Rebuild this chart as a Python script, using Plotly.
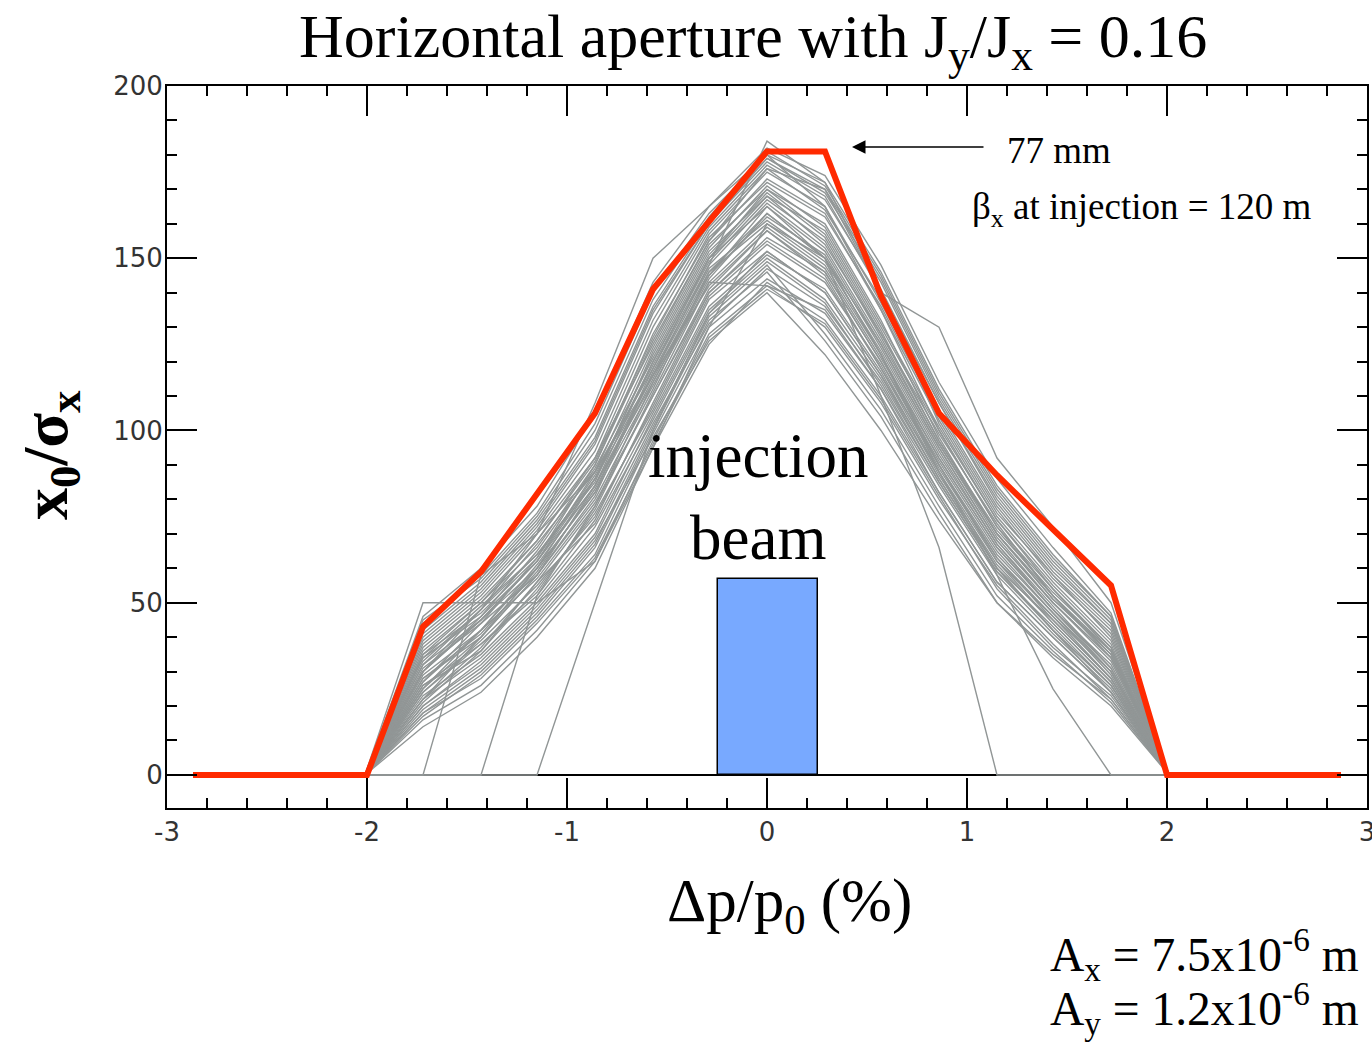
import plotly.graph_objects as go

# ---------------- data ----------------
# momentum deviation grid (%) used by the tracking runs
grid_x = [-2.01, -1.72, -1.43, -1.15, -0.86, -0.57, -0.29, 0.0, 0.29, 0.57, 0.86, 1.15, 1.43, 1.72, 2.01]

# individual seed apertures (x0/sigma_x)
seeds = [
    [0, 30, 45, 60, 82, 118, 150, 165, 152, 125, 95, 68, 50, 34, 0],
    [0, 16, 26, 42, 62, 97, 128, 142, 130, 108, 80, 55, 38, 22, 0],
    [0, 44, 58, 76, 102, 140, 163, 180, 172, 146, 112, 84, 64, 46, 0],
    [0, 22, 34, 50, 70, 104, 135, 150, 138, 115, 86, 60, 42, 26, 0],
    [0, 36, 50, 66, 90, 128, 156, 172, 162, 136, 104, 76, 58, 40, 0],
    [0, 18, 30, 46, 66, 100, 132, 146, 126, 104, 76, 50, 34, 20, 0],
    [0, 28, 40, 58, 80, 112, 146, 160, 148, 122, 92, 66, 48, 32, 0],
    [0, 40, 54, 72, 96, 134, 160, 178, 168, 140, 108, 80, 60, 44, 0],
    [0, 24, 38, 52, 74, 108, 140, 155, 144, 118, 90, 62, 46, 28, 0],
    [0, 32, 48, 64, 86, 122, 152, 168, 158, 130, 100, 72, 54, 36, 0],
    [0, 20, 32, 48, 68, 98, 126, 140, 122, 100, 74, 50, 35, 22, 0],
    [0, 46, 60, 78, 105, 143, 165, 182, 174, 148, 114, 86, 66, 47, 0],
    [0, 26, 36, 56, 78, 114, 144, 163, 150, 122, 90, 64, 47, 30, 0],
    [0, 34, 46, 62, 84, 120, 150, 170, 160, 132, 98, 70, 52, 35, 0],
    [0, 14, 24, 40, 60, 95, 125, 143, 132, 110, 82, 56, 40, 24, 0],
    [0, 38, 52, 70, 92, 130, 158, 176, 164, 138, 106, 78, 58, 42, 0],
    [0, 29, 42, 61, 84, 116, 148, 166, 153, 126, 96, 69, 50, 33, 0],
    [0, 21, 36, 54, 76, 106, 138, 152, 140, 116, 88, 62, 44, 27, 0],
    [0, 42, 56, 74, 98, 136, 161, 179, 170, 144, 110, 82, 62, 45, 0],
    [0, 27, 44, 58, 81, 117, 147, 161, 149, 123, 93, 67, 49, 31, 0],
    [0, 33, 48, 67, 88, 124, 154, 170, 157, 129, 97, 71, 53, 37, 0],
    [0, 17, 29, 45, 64, 99, 130, 144, 134, 112, 84, 58, 41, 25, 0],
    [0, 35, 47, 63, 90, 126, 155, 173, 163, 135, 103, 75, 56, 39, 0],
    [0, 25, 42, 57, 79, 110, 141, 158, 146, 120, 91, 65, 47, 29, 0],
    [0, 39, 53, 71, 94, 132, 159, 177, 167, 141, 108, 79, 59, 43, 0],
    [0, 23, 35, 51, 72, 103, 134, 149, 137, 113, 85, 59, 43, 26, 0],
    [0, 31, 44, 63, 87, 119, 149, 167, 155, 127, 96, 70, 51, 35, 0],
    [0, 19, 31, 47, 67, 101, 133, 148, 128, 106, 78, 52, 36, 21, 0],
    [0, 37, 51, 68, 91, 127, 157, 175, 165, 137, 105, 77, 57, 41, 0],
    [0, 28, 41, 59, 83, 115, 145, 162, 151, 124, 94, 67, 48, 31, 0],
    [0, 45, 57, 75, 100, 138, 162, 181, 171, 145, 111, 83, 63, 46, 0],
    [0, 24, 39, 55, 75, 107, 139, 154, 143, 119, 89, 63, 45, 28, 0],
    [0, 30, 46, 65, 89, 121, 151, 169, 156, 128, 99, 73, 52, 34, 0],
    [0, 20, 33, 49, 69, 102, 131, 147, 136, 114, 85, 59, 42, 24, 0],
    [0, 34, 49, 64, 85, 123, 153, 171, 159, 131, 101, 74, 55, 38, 0],
    [0, 26, 38, 53, 77, 111, 143, 159, 147, 121, 92, 66, 48, 30, 0],
    [0, 41, 55, 73, 97, 135, 160, 179, 169, 143, 109, 81, 61, 44, 0],
    [0, 22, 37, 56, 73, 105, 136, 151, 141, 117, 87, 61, 44, 27, 0],
    [0, 32, 45, 62, 86, 120, 150, 168, 154, 128, 97, 70, 51, 36, 0],
    [0, 18, 28, 44, 63, 96, 127, 141, 131, 109, 81, 54, 37, 23, 0],
    [0, 50, 50, 50, 62, 95, 130, 160, 150, 125, 95, 68, 50, 34, 0],
    [0, 30, 48, 70, 108, 150, 165, 180, 165, 135, 100, 72, 52, 36, 0],
    [0, 35, 50, 68, 92, 125, 155, 176, 170, 140, 130, 92, 72, 50, 0],
    [0, 0, 58, 70, 88, 116, 142, 158, 145, 118, 88, 60, 45, 28, 0],
    [0, 0, 0, 52, 78, 110, 140, 156, 146, 120, 90, 63, 46, 30, 0],
    [0, 0, 0, 0, 50, 100, 134, 152, 140, 116, 86, 60, 42, 26, 0],
    [0, 25, 40, 58, 84, 114, 145, 165, 150, 110, 66, 0, 0, 0, 0],
    [0, 27, 42, 60, 86, 116, 146, 163, 150, 122, 88, 58, 25, 0, 0],
    [0, 30, 45, 62, 88, 118, 148, 184, 172, 140, 102, 74, 54, 37, 0],
    [0, 22, 40, 60, 82, 113, 143, 142, 135, 112, 82, 56, 40, 24, 0],
]

# dynamic aperture envelope (red)
env_x = [-2.87, -2.0, -1.72, -1.43, -0.86, -0.57, 0.0, 0.29, 0.57, 0.86, 1.15, 1.72, 2.0, 2.87]
env_y = [0, 0, 43, 59, 105, 141, 181, 181, 139, 105, 87, 55, 0, 0]

# injection beam size
beam_x = [0.005]
beam_y = [57]
beam_width = 0.5

# tick labels (plain hyphen minus as in the original)
x_ticks = [-3, -2, -1, 0, 1, 2, 3]
x_ticklabels = ["-3", "-2", "-1", "0", "1", "2", "3"]
y_ticks = [0, 50, 100, 150, 200]
y_ticklabels = ["0", "50", "100", "150", "200"]

# ---------------- figure ----------------
fig = go.Figure()

fig.add_trace(go.Bar(x=beam_x, y=beam_y, width=[beam_width],
                     marker=dict(color="#78a9ff", line=dict(color="black", width=1.5)),
                     showlegend=False, hoverinfo="skip"))

for s in seeds:
    fig.add_trace(go.Scatter(x=grid_x, y=s, mode="lines",
                             line=dict(color="#919696", width=1.4),
                             showlegend=False, hoverinfo="skip"))

fig.add_trace(go.Scatter(x=env_x, y=env_y, mode="lines",
                         line=dict(color="#ff2a00", width=6),
                         showlegend=False))

serif = "Liberation Serif, Times New Roman, serif"
tickfont = dict(family="DejaVu Sans", size=26, color="#333333")

fig.update_layout(
    width=1372, height=1042,
    margin=dict(l=167, r=5, t=86, b=234),
    paper_bgcolor="white", plot_bgcolor="white",
    showlegend=False,
    bargap=0,
)

fig.update_xaxes(
    range=[-3, 3], tickvals=x_ticks, ticktext=x_ticklabels,
    showgrid=False, zeroline=False, automargin=False,
    showline=True, linecolor="black", linewidth=2, mirror="allticks",
    ticks="inside", ticklen=30, tickwidth=2, tickcolor="black",
    minor=dict(dtick=0.2, tick0=0, ticks="inside", ticklen=10, tickwidth=2, tickcolor="black", showgrid=False),
    tickfont=tickfont, ticklabelstandoff=0, ticklabeloverflow="allow",
)
fig.update_yaxes(
    range=[-9.6, 200], tickvals=y_ticks, ticktext=y_ticklabels,
    showgrid=False, zeroline=True, zerolinecolor="black", zerolinewidth=1.5, automargin=False,
    showline=True, linecolor="black", linewidth=2, mirror="allticks",
    ticks="inside", ticklen=30, tickwidth=2, tickcolor="black",
    minor=dict(dtick=10, tick0=0, ticks="inside", ticklen=10, tickwidth=2, tickcolor="black", showgrid=False),
    tickfont=tickfont, ticklabelstandoff=-3,
)

ann = []
ann.append(dict(text="Horizontal aperture with J<sub>y</sub>/J<sub>x</sub> = 0.16",
                xref="paper", yref="paper", x=0.4883, y=1.0637, xanchor="center", yanchor="middle",
                showarrow=False, font=dict(family=serif, size=62, color="black")))
ann.append(dict(text="<b>x<sub>0</sub>/σ<sub>x</sub></b>",
                xref="paper", yref="paper", x=-0.0975, y=0.489, xanchor="center", yanchor="middle",
                textangle=-90, showarrow=False, font=dict(family=serif, size=64, color="black")))
ann.append(dict(text="Δp/p<sub>0</sub> (%)",
                xref="paper", yref="paper", x=0.519, y=-0.134, xanchor="center", yanchor="middle",
                showarrow=False, font=dict(family=serif, size=61, color="black")))
ann.append(dict(text="A<sub>x</sub> = 7.5x10<sup>-6</sup> m",
                xref="paper", yref="paper", x=0.995, y=-0.2036, xanchor="right", yanchor="middle",
                showarrow=False, font=dict(family=serif, size=47.5, color="black")))
ann.append(dict(text="A<sub>y</sub> = 1.2x10<sup>-6</sup> m",
                xref="paper", yref="paper", x=0.995, y=-0.278, xanchor="right", yanchor="middle",
                showarrow=False, font=dict(family=serif, size=47.5, color="black")))
ann.append(dict(text="injection<br>beam",
                xref="x", yref="y", x=-0.045, y=80.8, xanchor="center", yanchor="middle",
                showarrow=False, font=dict(family=serif, size=63, color="black")))
ann.append(dict(text="77 mm",
                xref="x", yref="y", x=1.19, y=181.4, xanchor="left", yanchor="middle",
                showarrow=False, font=dict(family=serif, size=37, color="black")))
ann.append(dict(text="β<sub>x</sub> at injection = 120 m",
                xref="x", yref="y", x=1.015, y=164.2, xanchor="left", yanchor="middle",
                showarrow=False, font=dict(family=serif, size=37, color="black")))
ann.append(dict(text="", xref="x", yref="y", x=0.425, y=182.3,
                axref="x", ayref="y", ax=1.09, ay=182.3,
                showarrow=True, arrowhead=2, arrowsize=1.8, arrowwidth=1.5, arrowcolor="black"))
fig.update_layout(annotations=ann)

fig.write_html("out.html")
